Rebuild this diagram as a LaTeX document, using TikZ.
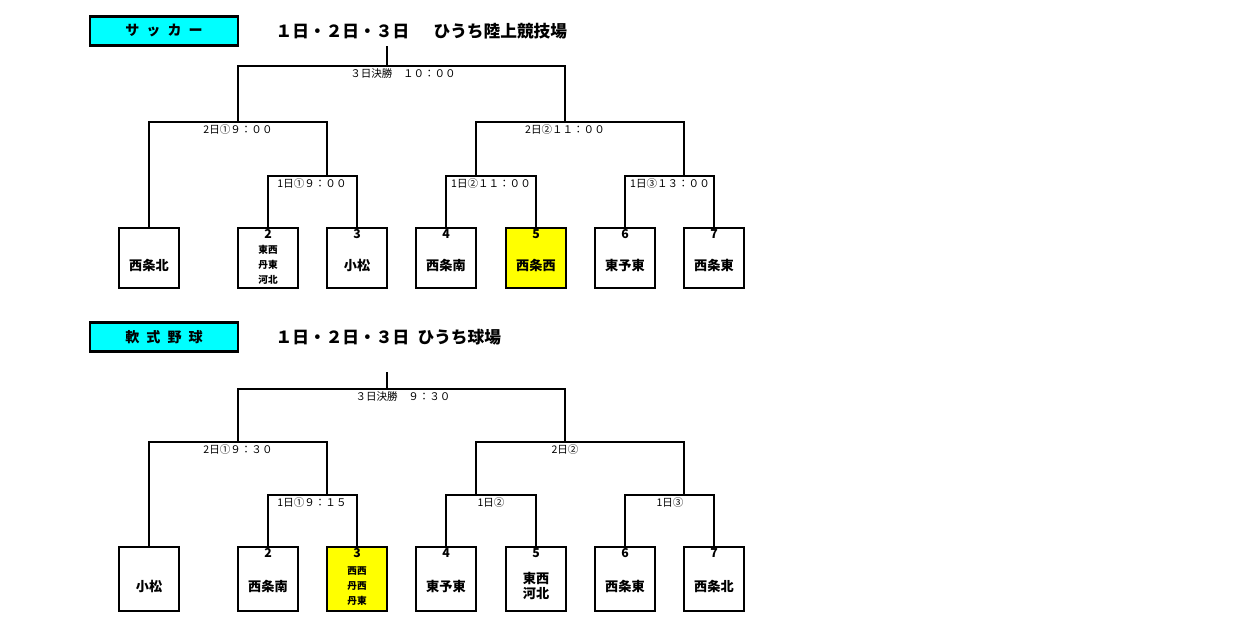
\documentclass[tikz,border=0pt]{standalone}
\usepackage{fontspec}
\setmainfont{Noto Sans CJK JP}
\usetikzlibrary{positioning}
\definecolor{title1}{HTML}{00FFFF}
\definecolor{win1}{HTML}{FFFF00}

\begin{document}
\begin{tikzpicture}[x=0.02cm,y=-0.02cm,line width=0.8pt]
\tikzstyle{team}=[draw,minimum width=1.2cm,minimum height=1.2cm,inner sep=0pt]
\tikzstyle{winner}=[team,fill=win1]
\tikzstyle{tname}=[inner sep=0pt,font=\bfseries\fontsize{7.5}{9}\selectfont,align=center]
\tikzstyle{small}=[tname,font=\bfseries\fontsize{5.5}{8.5}\selectfont]
\tikzstyle{title}=[draw,line width=1.4pt,fill=title1,minimum width=2.95cm,minimum height=0.58cm,font=\bfseries\fontsize{8}{9}\selectfont]
\tikzstyle{head}=[anchor=west,inner sep=0pt,font=\bfseries\fontsize{9.5}{10}\selectfont]
\tikzstyle{match}=[below,inner sep=1pt,font=\fontsize{6}{7}\selectfont]
\tikzstyle{num}=[below,inner sep=1pt,font=\bfseries\fontsize{7}{8}\selectfont]
\useasboundingbox (0,0) rectangle (1240,626);

%%% Soccer
\node[title] (t1) at (164,31) {サ\enspace ッ\enspace カ\enspace ー};
\node[head] (h1) at (275,31) {１日・２日・３日\quad\ \ ひうち陸上競技場};

% Draw the team boxes
\foreach \name / \x in {1/149,2/268,3/357,4/446,6/625,7/714}
\node[team] (S-\name) at (\x,258) {};
\node[winner] (S-5) at (536,258) {};
\foreach \name / \txt in {1/西条北,3/小松,4/西条南,5/西条西,6/東予東,7/西条東}
\node[tname] at ([yshift=-7*0.02cm]S-\name.center) {\txt};
\node[small] at ([yshift=-7*0.02cm]S-2.center) {東西\\丹東\\河北};
\foreach \name in {2,...,7}
\node[num] at (S-\name.north) {\name};

% Brackets
\draw (S-2.north) |- (268,176) -| (S-3.north);
\draw (S-4.north) |- (446,176) -| (S-5.north);
\draw (S-6.north) |- (625,176) -| (S-7.north);
\draw (327,176) |- (149,122) -- (S-1.north) -- ++(0,-12);
\draw (476,176) |- (684,122) -- (684,176);
\draw (238,122) |- (565,66) -- (565,122);
\draw (387,66) -- (387,46);

% Annotate the matches
\node[match] at (403,66) {３日決勝\quad １０：００};
\node[match] at (238,122) {2日①９：００};
\node[match] at (565,122) {2日②１１：００};
\node[match] at (312,176) {1日①９：００};
\node[match] at (491,176) {1日②１１：００};
\node[match] at (670,176) {1日③１３：００};

%%% Baseball
\node[title] (t2) at (164,337) {軟\enspace 式\enspace 野\enspace 球};
\node[head] (h2) at (275,337) {１日・２日・３日\enspace ひうち球場};

\foreach \name / \x in {1/149,2/268,4/446,5/536,6/625,7/714}
\node[team,minimum height=1.28cm] (B-\name) at (\x,579) {};
\node[winner,minimum height=1.28cm] (B-3) at (357,579) {};
\foreach \name / \txt in {1/小松,2/西条南,4/東予東,5/東西\\河北,6/西条東,7/西条北}
\node[tname] at ([yshift=-7*0.02cm]B-\name.center) {\txt};
\node[small] at ([yshift=-7*0.02cm]B-3.center) {西西\\丹西\\丹東};
\foreach \name in {2,...,7}
\node[num] at (B-\name.north) {\name};

\draw (B-2.north) |- (268,495) -| (B-3.north);
\draw (B-4.north) |- (446,495) -| (B-5.north);
\draw (B-6.north) |- (625,495) -| (B-7.north);
\draw (327,495) |- (149,442) -- (B-1.north) -- ++(0,-10);
\draw (476,495) |- (684,442) -- (684,495);
\draw (238,442) |- (565,389) -- (565,442);
\draw (387,389) -- (387,372);

\node[match] at (403,389) {３日決勝\quad ９：３０};
\node[match] at (238,442) {2日①９：３０};
\node[match] at (565,442) {2日②};
\node[match] at (312,495) {1日①９：１５};
\node[match] at (491,495) {1日②};
\node[match] at (670,495) {1日③};
\end{tikzpicture}
\end{document}
